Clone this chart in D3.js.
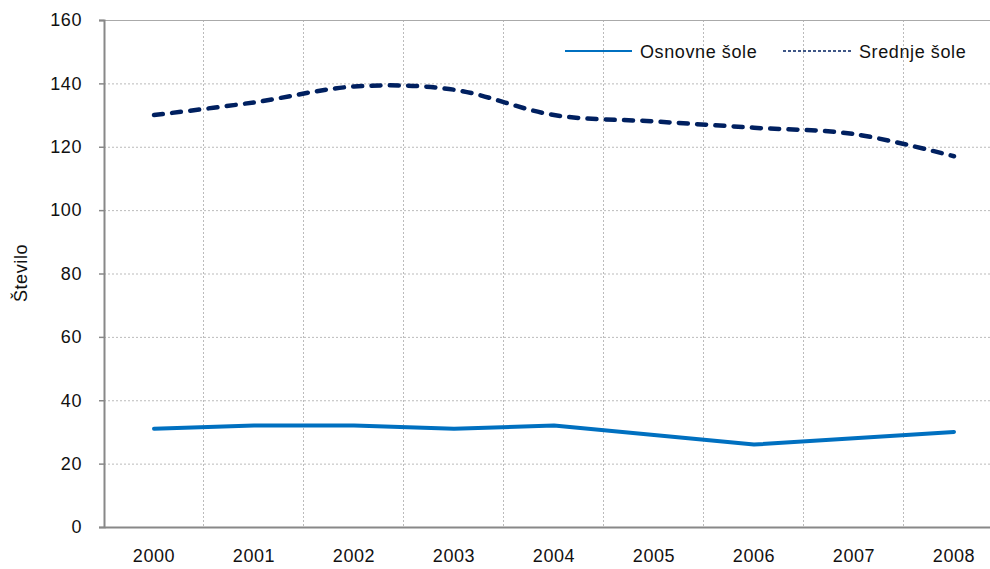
<!DOCTYPE html>
<html>
<head>
<meta charset="utf-8">
<script src="https://cdn.jsdelivr.net/npm/d3@7/dist/d3.min.js"></script>
<style>
  body { margin: 0; background: #fff; }
  svg { display: block; font-family: "Liberation Sans", Arial, sans-serif; }
  svg text { letter-spacing: 0.6px; }
</style>
</head>
<body>
<script>
// data
var years = ["2000", "2001", "2002", "2003", "2004", "2005", "2006", "2007", "2008"];
var osnovne = [31, 32, 32, 31, 32, 29, 26, 28, 30];
var srednje = [130, 134, 139, 138, 130, 128, 126, 124, 117];
var yTicks = [0, 20, 40, 60, 80, 100, 120, 140, 160];
var seriesNames = ["Osnovne šole", "Srednje šole"];

var width = 990,
    height = 569;

// the plot area runs past the right edge of the picture
var plotLeft = 104, plotRight = 1004, plotTop = 20, plotBottom = 527;
var fontSize = 18;

var svg = d3.select("body").append("svg")
    .attr("width", width)
    .attr("height", height);

var x = d3.scaleBand().domain(years).range([plotLeft, plotRight]);
var y = d3.scaleLinear().domain([0, 160]).range([plotBottom, plotTop]);

// grid
var grid = svg.append("g");
grid.selectAll(".hg")
    .data(yTicks.filter(function(d) { return d > 0; }))
    .enter().append("line")
    .attr("x1", plotLeft).attr("x2", plotRight)
    .attr("y1", function(d) { return y(d) + 0.5; })
    .attr("y2", function(d) { return y(d) + 0.5; })
    .attr("stroke", "#bbb")
    .attr("stroke-dasharray", "2,2");

grid.selectAll(".vg")
    .data(years.slice(1))
    .enter().append("line")
    .attr("x1", function(d) { return x(d) - 0.5; })
    .attr("x2", function(d) { return x(d) - 0.5; })
    .attr("y1", plotTop).attr("y2", plotBottom)
    .attr("stroke", "#bbb")
    .attr("stroke-dasharray", "2,2");

// top border of plot area
svg.append("line")
    .attr("x1", plotLeft).attr("x2", plotRight)
    .attr("y1", plotTop + 0.5).attr("y2", plotTop + 0.5)
    .attr("stroke", "#aaa");

// y axis
var yAxis = svg.append("g")
    .attr("transform", "translate(" + plotLeft + ",0)")
    .call(d3.axisLeft(y).tickValues(yTicks).tickSize(5).tickPadding(17));
yAxis.select(".domain").attr("stroke", "#888").attr("stroke-width", 2);
yAxis.selectAll(".tick line").attr("stroke", "#888").attr("stroke-width", 1.5);
yAxis.selectAll("text").attr("font-size", fontSize).attr("fill", "#111")
    .attr("font-family", "Liberation Sans, Arial, sans-serif");

// x axis
var xAxis = svg.append("g")
    .attr("transform", "translate(0," + plotBottom + ")")
    .call(d3.axisBottom(x).tickSize(0).tickPadding(22));
xAxis.select(".domain").attr("stroke", "#888").attr("stroke-width", 2);
xAxis.selectAll("text").attr("font-size", fontSize).attr("fill", "#111")
    .attr("font-family", "Liberation Sans, Arial, sans-serif");

// y label
svg.append("text")
    .attr("transform", "translate(27,273) rotate(-90)")
    .attr("text-anchor", "middle")
    .attr("font-size", fontSize)
    .attr("fill", "#111")
    .text("Število");

// lines
var cx = function(d, i) { return x(years[i]) + x.bandwidth() / 2; };

svg.append("path")
    .datum(osnovne)
    .attr("fill", "none")
    .attr("stroke", "#0070C0")
    .attr("stroke-width", 4)
    .attr("stroke-linecap", "round")
    .attr("stroke-linejoin", "round")
    .attr("d", d3.line().x(cx).y(function(d) { return y(d); }));

svg.append("path")
    .datum(srednje)
    .attr("fill", "none")
    .attr("stroke", "#002060")
    .attr("stroke-width", 4.5)
    .attr("stroke-linecap", "round")
    .attr("stroke-dasharray", "9,9.3")
    .attr("d", d3.line().curve(d3.curveCatmullRom.alpha(0)).x(cx).y(function(d) { return y(d); }));

// legend
var legend = svg.append("g");
legend.append("line")
    .attr("x1", 565).attr("x2", 632).attr("y1", 51).attr("y2", 51)
    .attr("stroke", "#0070C0").attr("stroke-width", 2);
legend.append("text")
    .attr("x", 640).attr("y", 58)
    .attr("font-size", fontSize).attr("fill", "#111")
    .text(seriesNames[0]);
legend.append("line")
    .attr("x1", 783).attr("x2", 852).attr("y1", 51).attr("y2", 51)
    .attr("stroke", "#002060").attr("stroke-width", 1.5)
    .attr("stroke-dasharray", "3,2");
legend.append("text")
    .attr("x", 859).attr("y", 58)
    .attr("font-size", fontSize).attr("fill", "#111")
    .text(seriesNames[1]);
</script>
</body>
</html>
